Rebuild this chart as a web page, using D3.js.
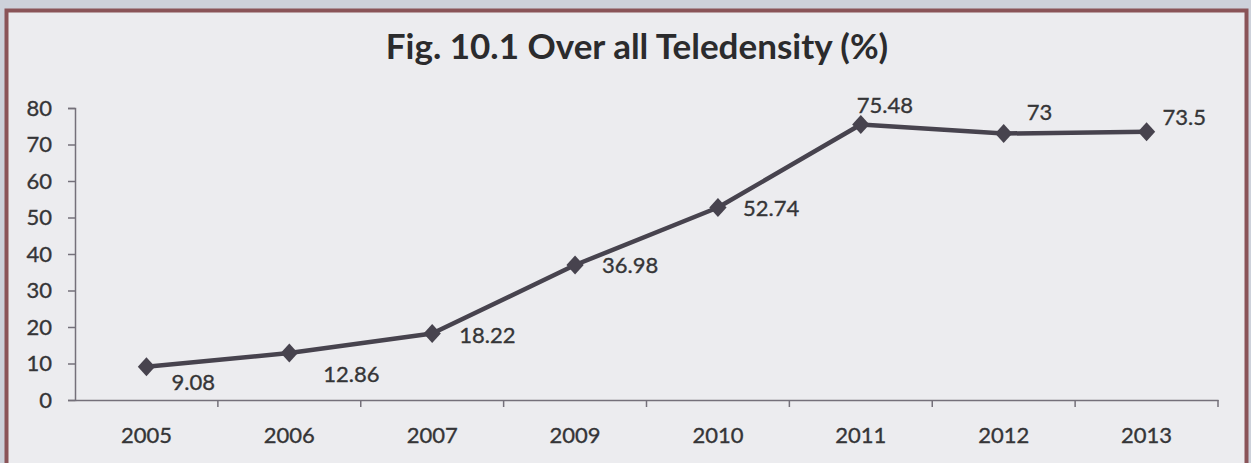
<!DOCTYPE html>
<html>
<head>
<meta charset="utf-8">
<script src="https://cdn.jsdelivr.net/npm/d3@7"></script>
<style>
  html, body { margin: 0; padding: 0; background: #cfd3dc; }
  svg { display: block; }
  text { font-family: "Lato", "Open Sans", sans-serif; }
</style>
</head>
<body>
<svg id="chart" width="1251" height="463"></svg>
<script>
const categories = ["2005", "2006", "2007", "2009", "2010", "2011", "2012", "2013"];
const values = [9.08, 12.86, 18.22, 36.98, 52.74, 75.48, 73, 73.5];
const yTicks = [0, 10, 20, 30, 40, 50, 60, 70, 80];
const valueLabels = ["9.08", "12.86", "18.22", "36.98", "52.74", "75.48", "73", "73.5"];
const titleText = "Fig. 10.1 Over all Teledensity (%)";
// label offsets (dx, dy) relative to each point, as placed in the original
const labelOffsets = [[25, 23], [34, 29], [27, 10], [27, 8], [25, 9], [-4, -11], [23, -14], [16, -7]];

const svg = d3.select("#chart");
const W = 1251, H = 463;

// outer background and frame
svg.append("rect").attr("x", 0).attr("y", 0).attr("width", W).attr("height", H).attr("fill", "#cdd1da");
svg.append("rect").attr("x", 6.5).attr("y", 10.5).attr("width", 1240).attr("height", 470)
  .attr("fill", "#ececef").attr("stroke", "#8a5458").attr("stroke-width", 4);

const x = d3.scaleBand().domain(categories).range([75, 1218]).paddingInner(0).paddingOuter(0);
const y = d3.scaleLinear().domain([0, 80]).range([400, 108]);

const axisColor = "#74707a";
const textColor = "#353537";

// title
svg.append("text")
  .attr("x", 637).attr("y", 59)
  .attr("text-anchor", "middle")
  .attr("font-size", 35).attr("font-weight", "bold")
  .attr("fill", "#2b2b2d")
  .text(titleText);

// y axis
const gy = svg.append("g").attr("transform", "translate(75,0)")
  .call(d3.axisLeft(y).tickValues(yTicks).tickSize(7).tickPadding(16).tickFormat(d3.format("d")));
gy.select(".domain").attr("stroke", axisColor).attr("stroke-width", 1.5);
gy.selectAll(".tick line").attr("stroke", axisColor).attr("stroke-width", 1.5);
gy.selectAll(".tick text").attr("font-size", 22).attr("fill", textColor)
  .attr("stroke", textColor).attr("stroke-width", 0.35).attr("font-family", "Lato, sans-serif");

// x axis (labels at band centres, ticks at band boundaries)
const gx = svg.append("g").attr("transform", "translate(0,400)")
  .call(d3.axisBottom(x).tickSize(0).tickPadding(27));
gx.select(".domain").attr("stroke", axisColor).attr("stroke-width", 1.5);
gx.selectAll(".tick text").attr("font-size", 22).attr("fill", textColor)
  .attr("stroke", textColor).attr("stroke-width", 0.35).attr("font-family", "Lato, sans-serif");
gx.selectAll(".boundary")
  .data(categories)
  .enter().append("line")
  .attr("class", "boundary")
  .attr("x1", d => x(d) + x.bandwidth()).attr("x2", d => x(d) + x.bandwidth())
  .attr("y1", 0).attr("y2", 7)
  .attr("stroke", axisColor).attr("stroke-width", 1.5);

// line
const cx = (d, i) => x(categories[i]) + x.bandwidth() / 2;
const line = d3.line().x((d, i) => cx(d, i)).y(d => y(d));
svg.append("path").datum(values)
  .attr("d", line)
  .attr("fill", "none")
  .attr("stroke", "#47434e")
  .attr("stroke-width", 4.5)
  .attr("stroke-linejoin", "round");

// diamond markers
const diamond = d3.symbol().type(d3.symbolDiamond2).size(190);
svg.selectAll(".marker").data(values).enter().append("path")
  .attr("class", "marker")
  .attr("d", diamond)
  .attr("transform", (d, i) => `translate(${cx(d, i)},${y(d)}) scale(1,1.1)`)
  .attr("fill", "#47434e");

// data labels
svg.selectAll(".vlabel").data(values).enter().append("text")
  .attr("class", "vlabel")
  .attr("x", (d, i) => cx(d, i) + labelOffsets[i][0])
  .attr("y", (d, i) => y(d) + labelOffsets[i][1])
  .attr("font-size", 22)
  .attr("fill", textColor)
  .attr("stroke", textColor).attr("stroke-width", 0.35)
  .text((d, i) => valueLabels[i]);
</script>
</body>
</html>
